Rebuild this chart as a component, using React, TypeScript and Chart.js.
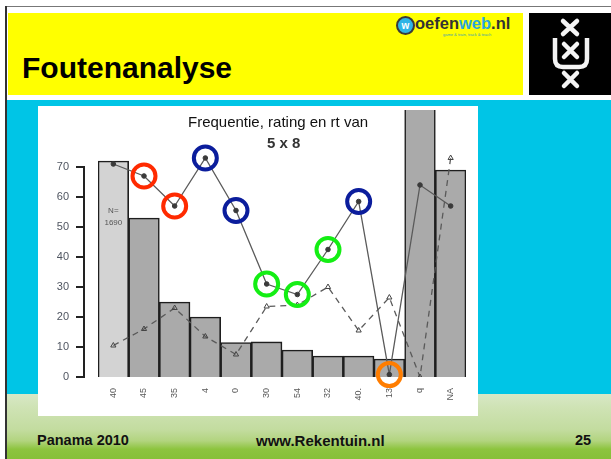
import React, { useEffect, useRef } from "react";
import { Chart, registerables } from "chart.js";

Chart.register(...registerables);

const FONT = '"Liberation Sans", Arial, Helvetica, sans-serif';

// ---- data ----
const categories = ["40", "45", "35", "4", "0", "30", "54", "32", "40.", "13", "q", "NA"];
const frequency = [72, 53, 25, 20, 11.5, 11.7, 9, 7, 7, 6, 100, 69];
const rating = [71, 67, 57, 73, 55.5, 31, 27.5, 42.5, 58.5, 0.8, 64, 57];
const rt = [10.5, 16, 23, 13.5, 7.5, 23.5, 24, 30, 15.5, 26.5, 0, 73];
const highlight = ["", "red", "red", "blue", "blue", "green", "green", "green", "blue", "orange", "", ""];
const yTicks = [0, 10, 20, 30, 40, 50, 60, 70];
const yMax = 89;
const sampleLabel = ["N=", "1690"];
const sampleLabelValues = [55.5, 51.3];

const highlightColors: Record<string, string> = {
  red: "#ff2a00",
  blue: "#0b1d9c",
  green: "#14ee14",
  orange: "#ff7d00",
};

const axisPlugin = {
  id: "rStyleAxis",
  afterDraw(chart: any) {
    const { ctx, chartArea, scales } = chart;
    const y = scales.y;
    const x = scales.x;
    const ax = chartArea.left - 14;
    ctx.save();
    ctx.strokeStyle = "#222";
    ctx.lineWidth = 2;
    ctx.beginPath();
    ctx.moveTo(ax, y.getPixelForValue(yTicks[0]) + 1);
    ctx.lineTo(ax, y.getPixelForValue(yTicks[yTicks.length - 1]) - 1);
    for (const t of yTicks) {
      const py = y.getPixelForValue(t);
      ctx.moveTo(ax + 1, py);
      ctx.lineTo(ax - 8, py);
    }
    ctx.stroke();
    ctx.fillStyle = "#555";
    ctx.font = `8px ${FONT}`;
    ctx.textAlign = "center";
    ctx.textBaseline = "middle";
    const bx = x.getPixelForValue(0);
    sampleLabel.forEach((s, i) => {
      ctx.fillText(s, bx, y.getPixelForValue(sampleLabelValues[i]));
    });
    ctx.restore();
  },
};

function ChartCanvas() {
  const ref = useRef<HTMLCanvasElement | null>(null);
  useEffect(() => {
    if (!ref.current) return;
    const chart = new Chart(ref.current, {
      type: "bar",
      data: {
        labels: categories,
        datasets: [
          {
            type: "line",
            data: highlight.map((h, i) => (h ? rating[i] : null)),
            showLine: false,
            pointRadius: 11.5,
            pointHoverRadius: 11.5,
            pointBorderWidth: 4,
            pointBackgroundColor: "rgba(0,0,0,0)",
            pointBorderColor: highlight.map((h) => (h ? highlightColors[h] : "rgba(0,0,0,0)")),
            clip: false,
            order: 1,
          } as any,
          {
            type: "line",
            data: rating,
            borderColor: "#5a5a5a",
            borderWidth: 1.3,
            pointRadius: 2.3,
            pointBackgroundColor: "#3a3a3a",
            pointBorderColor: "#3a3a3a",
            pointBorderWidth: 1,
            order: 2,
          } as any,
          {
            type: "line",
            data: rt,
            borderColor: "#5a5a5a",
            borderWidth: 1.3,
            borderDash: [6, 5],
            pointStyle: "triangle",
            pointRadius: 3,
            pointBorderWidth: 1,
            pointBorderColor: "#444",
            pointBackgroundColor: "rgba(255,255,255,0)",
            order: 2,
          } as any,
          {
            type: "bar",
            data: frequency,
            backgroundColor: frequency.map((_, i) => (i === 0 ? "#d3d3d3" : "#aaaaaa")),
            borderColor: "#1e1e1e",
            borderWidth: 1.6,
            barPercentage: 1,
            categoryPercentage: 1,
            order: 3,
          } as any,
        ],
      },
      options: {
        responsive: false,
        animation: false,
        layout: { autoPadding: false, padding: { top: 4, right: 12, left: 0, bottom: 0 } },
        plugins: {
          legend: { display: false },
          tooltip: { enabled: false },
          title: { display: false },
        },
        scales: {
          x: {
            offset: true,
            grid: { display: false, drawTicks: false },
            border: { display: false },
            ticks: {
              autoSkip: false,
              minRotation: 90,
              maxRotation: 90,
              padding: 11,
              color: "#585858",
              font: { family: FONT, size: 9 },
            },
            afterFit: (scale: any) => {
              scale.height = 39;
              scale.paddingLeft = 0;
              scale.paddingRight = 0;
            },
          },
          y: {
            min: 0,
            max: yMax,
            grid: { display: false, drawTicks: false },
            border: { display: false },
            ticks: {
              padding: 29,
              color: "#4f5560",
              font: { family: FONT, size: 11 },
            },
            afterBuildTicks: (scale: any) => {
              scale.ticks = yTicks.map((v) => ({ value: v }));
            },
            afterFit: (scale: any) => {
              scale.width = 60;
              scale.paddingTop = 0;
              scale.paddingBottom = 0;
            },
          },
        },
      } as any,
      plugins: [axisPlugin],
    });
    return () => chart.destroy();
  }, []);
  return <canvas ref={ref} width={440} height={310} style={{ display: "block" }} />;
}

function abs(left: number, top: number, extra: React.CSSProperties = {}): React.CSSProperties {
  return { position: "absolute", left, top, ...extra };
}

function text(fs: number, bold: boolean, color: string, extra: React.CSSProperties = {}): React.CSSProperties {
  return {
    fontSize: fs,
    lineHeight: `${fs}px`,
    fontWeight: bold ? 700 : 400,
    color,
    whiteSpace: "nowrap",
    fontFamily: FONT,
    ...extra,
  };
}

export default function App() {
  useEffect(() => {
    document.body.style.margin = "0";
  }, []);
  return (
    <div style={{ position: "fixed", left: 0, top: 0, width: 611, height: 459, background: "#fff", overflow: "hidden", fontFamily: FONT }}>
      {/* slide frame */}
      <div style={abs(5, 6, { width: 606, height: 1, background: "#777" })} />
      <div style={abs(5, 6, { width: 2, height: 453, background: "#333" })} />
      {/* header */}
      <div style={abs(8, 13, { width: 515, height: 82, background: "#ffff00" })} />
      <div style={abs(22, 53, text(30, true, "#000"))}>Foutenanalyse</div>
      {/* oefenweb logo */}
      <div style={abs(396, 16, { width: 15, height: 15, borderRadius: "50%", background: "#2fb4e6", border: "2px solid #3a3a3a", display: "flex", alignItems: "center", justifyContent: "center" })}>
        <span style={text(10, true, "#fff")}>w</span>
      </div>
      <div style={abs(415, 15, text(16.5, true, "#333"))}>
        oefen<span style={{ color: "#2aa6df" }}>web</span>.nl
      </div>
      <div style={abs(443, 33, text(4, false, "#3aa0b0"))}>game &amp; train, track &amp; teach</div>
      {/* UvA logo */}
      <div style={abs(529, 13, { width: 82, height: 82, background: "#000" })}>
        <svg width={82} height={82} viewBox="0 0 82 82">
          <g stroke="#f4f4f4" strokeWidth={4.5} strokeLinecap="round" fill="none">
            <path d="M34 8 L48 21 M48 8 L34 21" />
            <path d="M35 31 L48 44 M48 31 L35 44" />
            <path d="M35 60 L48 73 M48 60 L35 73" />
            <path d="M26 25 V46 Q26 54 34 54 H50 Q58 54 58 46 V25" strokeLinecap="butt" />
          </g>
        </svg>
      </div>
      {/* body */}
      <div style={abs(7, 100, { width: 604, height: 300, background: "#00c5e6" })} />
      <div
        style={abs(7, 394, {
          width: 604,
          height: 65,
          background: "linear-gradient(180deg, #d8e8c6 0%, #cfe3b5 20%, #c3dc9f 55%, #b2d47f 72%, #8cc43e 85%, #86c038 100%)",
        })}
      />
      {/* chart panel */}
      <div style={abs(38, 106, { width: 440, height: 310, background: "#fff" })}>
        <ChartCanvas />
      </div>
      <div style={abs(188, 114, text(15, false, "#111"))}>Frequentie, rating en rt van</div>
      <div style={abs(267, 135, text(15, true, "#333"))}>5 x 8</div>
      {/* footer */}
      <div style={abs(37, 433, text(14.5, true, "#111"))}>Panama 2010</div>
      <div style={abs(256, 433, text(15, true, "#111"))}>www.Rekentuin.nl</div>
      <div style={abs(575, 433, text(14.5, true, "#111"))}>25</div>
    </div>
  );
}
